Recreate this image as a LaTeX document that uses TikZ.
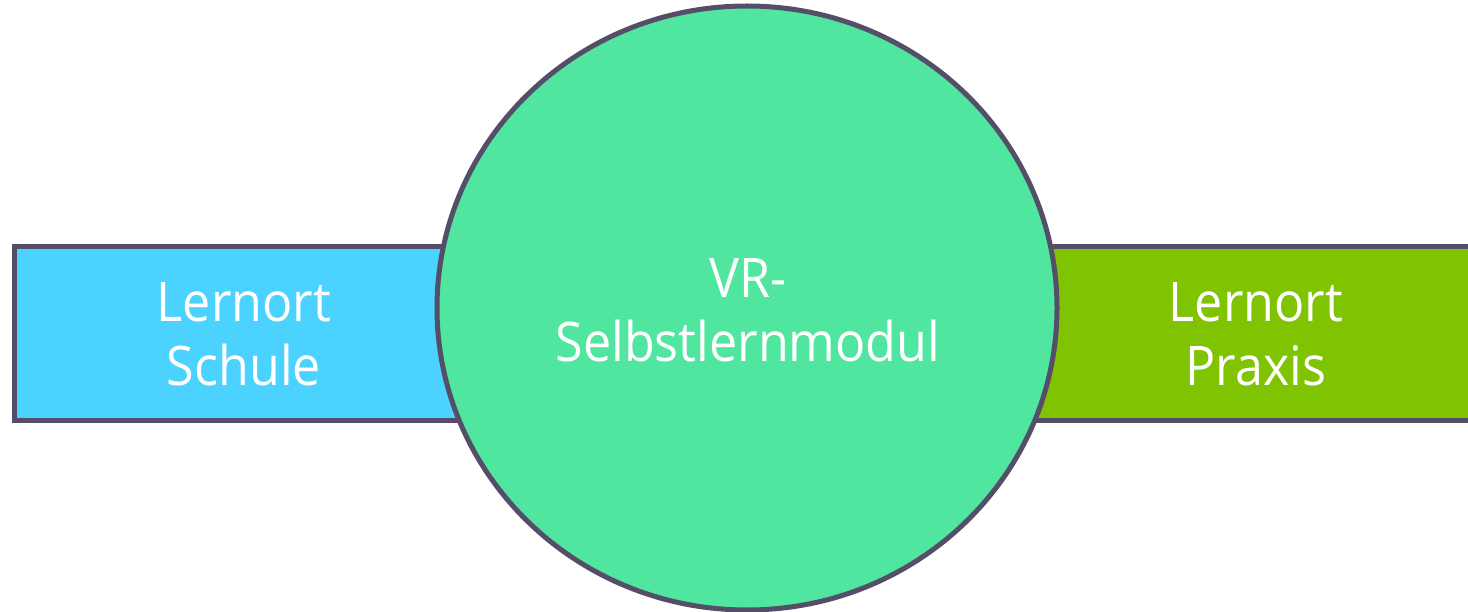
\documentclass[tikz,border=0pt]{standalone}
\usepackage{fontspec}
\setmainfont[FakeStretch=0.92]{Open Sans}
\definecolor{edge}{HTML}{544E68}
\definecolor{schulblau}{HTML}{4BD2FF}
\definecolor{praxisgruen}{HTML}{80C300}
\definecolor{modulgruen}{HTML}{50E69F}
\begin{document}
\begin{tikzpicture}[x=1pt,y=-1pt,
  outline/.style={draw=edge,line width=5pt},
  label/.style={text=white,align=center,inner sep=0pt,
    font=\fontsize{54.6}{64}\selectfont}]
  \useasboundingbox (0,0) rectangle (1468,612);
  % the two learning places as bars behind the module
  \draw[outline,fill=schulblau] (14,247) rectangle (700,420);
  \draw[outline,fill=praxisgruen] (800,247) rectangle (1480,420);
  % the VR module in the middle
  \draw[outline,fill=modulgruen] (747,308) ellipse [x radius=310,y radius=302];
  \node[label] (schule) at (244,334) {Lernort\\Schule};
  \node[label] (modul) at (748,310) {VR-\\Selbstlernmodul};
  \node[label] (praxis) at (1256,334) {Lernort\\Praxis};
\end{tikzpicture}
\end{document}
